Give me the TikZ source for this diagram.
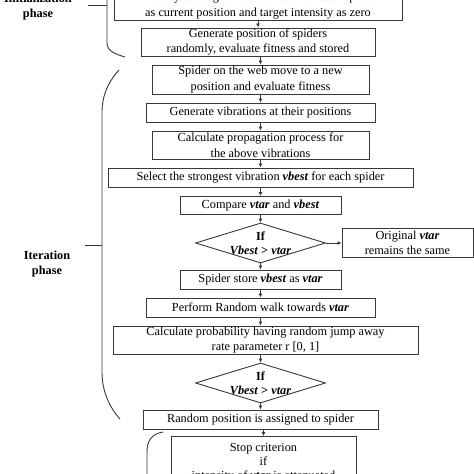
\documentclass[tikz,border=0pt]{standalone}
\usepackage{fontspec}
\setmainfont{Liberation Serif}
\usetikzlibrary{arrows.meta,shapes.geometric}
\definecolor{LineClr}{rgb}{0.22,0.22,0.22}
\newcommand{\Var}[1]{\textbf{\textit{#1}}}

\begin{document}
\begin{tikzpicture}[x=1pt,y=-1pt,
  ProcBox/.style={draw=LineClr,line width=0.9pt,inner sep=0pt,align=center,
    font=\fontsize{12.3}{15.5}\selectfont},
  DecBox/.style={draw=LineClr,line width=0.9pt,diamond,inner sep=0pt,
    minimum width=130pt,minimum height=40pt},
  DecTxt/.style={align=center,inner sep=0pt,font=\fontsize{12.3}{14}\selectfont},
  PhaseLbl/.style={align=center,font=\bfseries\fontsize{12.3}{14.5}\selectfont},
  Flow/.style={-{Latex[length=4pt,width=4pt]},line width=0.9pt,color=LineClr},
  Brace/.style={line width=0.9pt,color=LineClr}]
\useasboundingbox (0,0) rectangle (474,474);
\clip (0,0) rectangle (474,474);

% initialization phase
\node[ProcBox,minimum width=288pt,minimum height=29pt] (init) at (258,5.5)
  {Initially set target vibration \Var{vtar} for each spider\\as current position and target intensity as zero};
\node[ProcBox,minimum width=234pt,minimum height=28pt] (gen) at (258,42)
  {Generate position of spiders\\randomly, evaluate fitness and stored};

% iteration phase
\node[ProcBox,minimum width=217pt,minimum height=29pt] (web) at (260.5,79.5)
  {Spider on the web move to a new\\position and evaluate fitness};
\node[ProcBox,minimum width=229pt,minimum height=19pt] (vib) at (260.5,112.5)
  {Generate vibrations at their positions};
\node[ProcBox,minimum width=217pt,minimum height=28pt] (prop) at (260.5,145)
  {Calculate propagation process for\\the above vibrations};
\node[ProcBox,minimum width=305pt,minimum height=19pt] (sel) at (260.5,177.5)
  {Select the strongest vibration \Var{vbest} for each spider};
\node[ProcBox,minimum width=161pt,minimum height=18pt] (cmp) at (260.5,205.5)
  {Compare \Var{vtar} and \Var{vbest}};
\node[DecBox,label={[DecTxt]center:{\textbf{If}\\\textbf{\textit{Vbest} > \textit{vtar}}}}] (ifa) at (260.5,243) {};
\node[ProcBox,minimum width=131pt,minimum height=29pt] (orig) at (407.5,243)
  {Original \Var{vtar}\\remains the same};
\node[ProcBox,minimum width=161pt,minimum height=19pt] (store) at (260.5,279.5)
  {Spider store \Var{vbest} as \Var{vtar}};
\node[ProcBox,minimum width=229pt,minimum height=19pt] (walk) at (260.5,307.5)
  {Perform Random walk towards \Var{vtar}};
\node[ProcBox,minimum width=305pt,minimum height=28pt] (prob) at (265.5,340)
  {Calculate probability having random jump away\\rate parameter r [0, 1]};
\node[DecBox,label={[DecTxt]center:{\textbf{If}\\\textbf{\textit{Vbest} > \textit{vtar}}}}] (ifb) at (260.5,383) {};
\node[ProcBox,minimum width=235pt,minimum height=19pt] (rand) at (260.5,419.5)
  {Random position is assigned to spider};

% stopping
\node[ProcBox,anchor=north,minimum width=185pt,minimum height=52pt,inner ysep=0.5pt,
  font=\fontsize{12.3}{13.8}\selectfont] (stop) at (263.5,436)
  {Stop criterion\\if\\intensity of \Var{vtar} is attenuated};

\draw[Flow] (init.south) -- (gen.north);
\draw[Flow] (gen.south -| web.north) -- (web.north);
\draw[Flow] (web.south) -- (vib.north);
\draw[Flow] (vib.south) -- (prop.north);
\draw[Flow] (prop.south) -- (sel.north);
\draw[Flow] (sel.south) -- (cmp.north);
\draw[Flow] (cmp.south) -- (ifa.north);
\draw[Flow] (ifa.east) -- (orig.west);
\draw[Flow] (ifa.south) -- (store.north);
\draw[Flow] (store.south) -- (walk.north);
\draw[Flow] (walk.south) -- (walk.south |- prob.north);
\draw[Flow] (ifb.north |- prob.south) -- (ifb.north);
\draw[Flow] (ifb.south) -- (rand.north);
\draw[Flow] (rand.south -| stop.north) -- (stop.north);

% phase labels and brackets
\node[PhaseLbl] (initlbl) at (38,7) {Initialization\\phase};
\node[PhaseLbl] (iterlbl) at (47,264) {Iteration\\phase};

\draw[Brace] (88,5) -- (107,5);
\draw[Brace] (107,-10) -- (107,43) .. controls (107,51) and (115,54) .. (125,57);
\draw[Brace] (85,245) -- (102,245);
\draw[Brace] (119,70) .. controls (108,82) and (102,96) .. (102,112) -- (102,372)
  .. controls (102,392) and (110,408) .. (120,419);
\draw[Brace] (163,432) .. controls (152,434) and (147,440) .. (147,452) -- (147,480);

\end{tikzpicture}
\end{document}
